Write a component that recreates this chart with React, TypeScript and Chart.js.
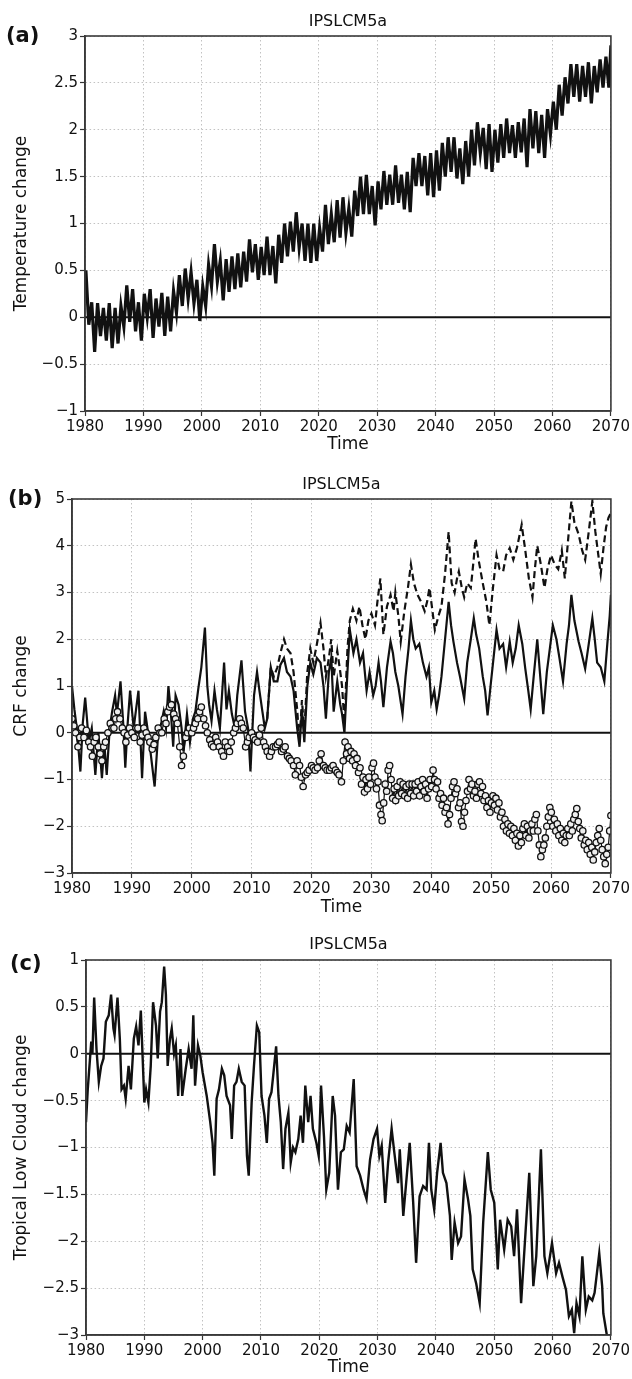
import React, { useEffect, useRef } from "react";
import { Chart, registerables } from "chart.js";

Chart.register(...registerables);

const FONT = '"DejaVu Sans", sans-serif';

// ---------- shared axis data ----------
const timeTicks = [1980, 1990, 2000, 2010, 2020, 2030, 2040, 2050, 2060, 2070];
const tempTicks = [-1, -0.5, 0, 0.5, 1, 1.5, 2, 2.5, 3];
const crfTicks = [-3, -2, -1, 0, 1, 2, 3, 4, 5];
const cloudTicks = [-3, -2.5, -2, -1.5, -1, -0.5, 0, 0.5, 1];
const panelTitle = "IPSLCM5a";
const zeroLine: [number, number][] = [[1980, 0], [2070, 0]];

// ---------- panel (a): yearly peaks / troughs, 1980..2069 ----------
const tempYears = [
  1980, 1981, 1982, 1983, 1984, 1985, 1986, 1987, 1988, 1989,
  1990, 1991, 1992, 1993, 1994, 1995, 1996, 1997, 1998, 1999,
  2000, 2001, 2002, 2003, 2004, 2005, 2006, 2007, 2008, 2009,
  2010, 2011, 2012, 2013, 2014, 2015, 2016, 2017, 2018, 2019,
  2020, 2021, 2022, 2023, 2024, 2025, 2026, 2027, 2028, 2029,
  2030, 2031, 2032, 2033, 2034, 2035, 2036, 2037, 2038, 2039,
  2040, 2041, 2042, 2043, 2044, 2045, 2046, 2047, 2048, 2049,
  2050, 2051, 2052, 2053, 2054, 2055, 2056, 2057, 2058, 2059,
  2060, 2061, 2062, 2063, 2064, 2065, 2066, 2067, 2068, 2069,
];
const tempPeaks = [
  0.50, 0.16, 0.15, 0.10, 0.15, 0.10, 0.12, 0.34, 0.30, 0.16,
  0.25, 0.30, 0.20, 0.26, 0.22, 0.28, 0.45, 0.52, 0.48, 0.40,
  0.33, 0.56, 0.78, 0.60, 0.62, 0.65, 0.68, 0.70, 0.83, 0.78,
  0.75, 0.86, 0.76, 0.88, 1.00, 1.02, 1.12, 1.00, 1.00, 1.00,
  0.95, 1.20, 1.10, 1.25, 1.28, 1.16, 1.35, 1.50, 1.52, 1.40,
  1.45, 1.56, 1.52, 1.62, 1.52, 1.55, 1.70, 1.75, 1.72, 1.75,
  1.78, 1.86, 1.92, 1.92, 1.80, 1.88, 2.00, 2.08, 2.02, 2.06,
  2.00, 2.06, 2.12, 2.05, 2.08, 2.12, 2.22, 2.20, 2.16, 2.22,
  2.30, 2.48, 2.56, 2.70, 2.70, 2.68, 2.72, 2.68, 2.75, 2.78,
];
const tempTroughs = [
  -0.08, -0.37, -0.20, -0.25, -0.33, -0.28, -0.10, -0.05, -0.15, -0.25,
  0.00, -0.22, -0.10, -0.20, -0.15, 0.05, 0.12, 0.20, 0.15, -0.04,
  0.12, 0.33, 0.38, 0.18, 0.27, 0.30, 0.32, 0.38, 0.48, 0.40,
  0.45, 0.45, 0.36, 0.58, 0.65, 0.70, 0.74, 0.60, 0.58, 0.60,
  0.70, 0.78, 0.80, 0.85, 0.90, 0.86, 1.08, 1.10, 1.10, 0.98,
  1.15, 1.20, 1.20, 1.22, 1.15, 1.12, 1.40, 1.40, 1.30, 1.28,
  1.35, 1.50, 1.55, 1.48, 1.42, 1.50, 1.62, 1.75, 1.58, 1.55,
  1.65, 1.70, 1.75, 1.70, 1.76, 1.60, 1.80, 1.75, 1.70, 1.95,
  2.00, 2.15, 2.28, 2.35, 2.30, 2.35, 2.28, 2.40, 2.45, 2.45,
];
const tempEnd: [number, number] = [2070, 2.9];

// ---------- panel (b): CRF change ----------
const crfSolid: [number, number][] = [
  [1980.0, 1.0], [1980.4, 0.5], [1980.8, 0.1], [1981.4, -0.83], [1981.8, 0.2], [1982.2, 0.75],
  [1982.5, 0.3], [1982.8, -0.2], [1983.3, 0.1], [1983.9, -0.9], [1984.4, 0.0], [1985.0, -0.97],
  [1985.4, -0.25], [1985.8, -0.9], [1986.3, 0.1], [1986.7, 0.45], [1987.2, 0.8], [1987.5, 0.4],
  [1988.1, 1.1], [1988.6, 0.1], [1988.9, -0.75], [1989.3, 0.2], [1989.7, 0.9], [1990.3, 0.1],
  [1990.7, 0.5], [1991.1, 0.9], [1991.7, -0.97], [1992.2, 0.45], [1992.6, 0.1], [1993.1, -0.4],
  [1993.8, -1.15], [1994.4, 0.0], [1994.9, 0.2], [1995.3, 0.45], [1995.7, 0.1], [1996.1, 1.0],
  [1996.5, 0.45], [1996.9, -0.3], [1997.3, 0.8], [1997.8, 0.6], [1998.3, 0.1], [1998.6, -0.4],
  [1999.2, 0.4], [1999.7, -0.2], [2000.2, 0.3], [2000.6, 0.45], [2001.1, 0.95], [2001.6, 1.4],
  [2002.2, 2.25], [2002.6, 1.0], [2002.9, 0.6], [2003.3, 0.25], [2003.8, 0.9], [2004.2, 0.5],
  [2004.7, 0.1], [2005.4, 1.5], [2005.8, 0.5], [2006.2, 0.9], [2006.7, 0.4], [2007.2, 0.1],
  [2007.6, 0.8], [2008.3, 1.55], [2008.9, 0.45], [2009.4, 0.1], [2009.8, -0.83], [2010.4, 0.8],
  [2010.9, 1.3], [2011.3, 0.9], [2011.8, 0.45], [2012.2, 0.1], [2012.6, 0.3], [2013.2, 1.4],
  [2013.7, 1.1], [2014.3, 1.1], [2014.8, 1.45], [2015.4, 1.6], [2015.9, 1.3], [2016.5, 1.2],
  [2017.0, 0.9], [2017.6, 0.1], [2018.0, -0.3], [2018.4, 0.5], [2018.8, -0.2], [2019.3, 1.0],
  [2019.8, 1.5], [2020.3, 1.25], [2020.9, 1.6], [2021.5, 1.5], [2022.0, 1.0], [2022.4, 0.3],
  [2022.9, 1.3], [2023.3, 1.6], [2023.7, 0.45], [2024.3, 1.1], [2024.8, 0.6], [2025.1, 0.4],
  [2025.5, 0.0], [2026.0, 1.3], [2026.4, 2.2], [2027.0, 1.7], [2027.5, 2.0], [2028.1, 1.5],
  [2028.6, 1.7], [2029.2, 0.9], [2029.7, 1.3], [2030.3, 0.8], [2030.7, 1.0], [2031.2, 1.5],
  [2031.6, 1.1], [2032.0, 0.55], [2032.6, 1.4], [2033.2, 1.95], [2033.6, 1.7], [2034.0, 1.3],
  [2034.5, 1.0], [2035.2, 0.4], [2035.7, 1.2], [2036.2, 1.8], [2036.6, 2.4], [2037.0, 2.0],
  [2037.4, 1.8], [2038.0, 1.9], [2038.6, 1.5], [2039.2, 1.2], [2039.6, 1.4], [2040.0, 0.65],
  [2040.5, 0.9], [2040.9, 0.5], [2041.3, 0.8], [2041.7, 1.2], [2042.3, 2.0], [2042.9, 2.8],
  [2043.3, 2.3], [2043.7, 1.95], [2044.3, 1.5], [2044.8, 1.2], [2045.5, 0.73], [2046.0, 1.5],
  [2046.6, 2.0], [2047.1, 2.45], [2047.5, 2.1], [2048.0, 1.8], [2048.6, 1.2], [2049.0, 0.9],
  [2049.4, 0.37], [2049.9, 1.0], [2050.4, 1.6], [2050.9, 2.2], [2051.4, 1.8], [2052.0, 1.9],
  [2052.5, 1.4], [2053.1, 1.95], [2053.6, 1.5], [2054.1, 1.8], [2054.6, 2.3], [2055.2, 1.9],
  [2055.7, 1.37], [2056.2, 0.9], [2056.6, 0.5], [2057.1, 1.2], [2057.7, 2.0], [2058.2, 1.2],
  [2058.7, 0.4], [2059.3, 1.3], [2059.8, 1.8], [2060.3, 2.3], [2060.9, 2.0], [2061.4, 1.6],
  [2062.0, 1.1], [2062.6, 1.9], [2063.0, 2.3], [2063.4, 2.95], [2063.9, 2.4], [2064.6, 1.95],
  [2065.1, 1.7], [2065.7, 1.37], [2066.3, 1.9], [2066.9, 2.45], [2067.3, 2.0], [2067.7, 1.5],
  [2068.3, 1.4], [2068.9, 1.1], [2069.4, 1.9], [2069.8, 2.5], [2070.0, 2.95],
];
const crfDashed: [number, number][] = [
  [2012.6, 0.3], [2013.2, 1.4], [2013.7, 1.2], [2014.3, 1.4], [2014.8, 1.7], [2015.4, 2.0],
  [2015.9, 1.8], [2016.5, 1.7], [2017.0, 1.3], [2017.6, 0.5], [2018.0, -0.2], [2018.4, 0.7],
  [2018.8, 0.0], [2019.3, 1.3], [2019.8, 1.8], [2020.3, 1.5], [2020.9, 1.9], [2021.5, 2.35],
  [2022.0, 1.8], [2022.4, 1.2], [2022.9, 1.6], [2023.3, 2.0], [2023.7, 1.2], [2024.3, 1.75],
  [2024.8, 1.3], [2025.1, 1.0], [2025.5, 0.2], [2026.0, 1.8], [2026.4, 2.4], [2026.9, 2.65],
  [2027.5, 2.4], [2028.0, 2.7], [2028.5, 2.3], [2029.0, 2.0], [2029.5, 2.4], [2030.0, 2.55],
  [2030.6, 2.3], [2031.0, 2.8], [2031.5, 3.3], [2032.0, 2.1], [2032.6, 2.7], [2033.2, 2.95],
  [2033.7, 2.6], [2034.0, 3.0], [2034.5, 2.5], [2034.9, 1.95], [2035.5, 2.6], [2036.1, 3.1],
  [2036.6, 3.6], [2037.1, 3.2], [2037.7, 2.95], [2038.3, 2.8], [2038.9, 2.6], [2039.3, 2.8],
  [2039.7, 3.1], [2040.2, 2.6], [2040.6, 2.2], [2041.2, 2.5], [2041.7, 2.7], [2042.3, 3.4],
  [2042.9, 4.3], [2043.4, 3.2], [2043.9, 3.0], [2044.3, 3.3], [2044.6, 3.45], [2045.1, 3.1],
  [2045.5, 2.9], [2046.0, 3.2], [2046.6, 3.1], [2047.0, 3.6], [2047.4, 4.15], [2047.9, 3.7],
  [2048.6, 3.2], [2049.2, 2.8], [2049.7, 2.3], [2050.3, 3.1], [2050.9, 3.8], [2051.4, 3.5],
  [2052.0, 3.45], [2052.5, 3.8], [2053.1, 3.95], [2053.7, 3.7], [2054.3, 3.95], [2054.7, 4.2],
  [2055.1, 4.45], [2055.7, 3.9], [2056.3, 3.3], [2056.9, 2.9], [2057.3, 3.5], [2057.7, 4.0],
  [2058.3, 3.6], [2058.9, 3.1], [2059.4, 3.5], [2060.0, 3.8], [2060.6, 3.6], [2061.2, 3.5],
  [2061.8, 3.9], [2062.3, 3.3], [2062.9, 4.2], [2063.4, 4.95], [2063.9, 4.5], [2064.6, 4.25],
  [2065.2, 3.9], [2065.7, 3.7], [2066.3, 4.3], [2066.9, 4.95], [2067.4, 4.3], [2067.9, 3.8],
  [2068.3, 3.4], [2068.8, 4.0], [2069.2, 4.4], [2069.6, 4.6], [2070.0, 4.7],
];
const crfCircles: [number, number][] = [
  [1980.0, 0.3], [1980.3, 0.15], [1980.6, 0.0], [1981.0, -0.3], [1981.3, -0.1], [1981.6, 0.1],
  [1982.0, -0.1], [1982.4, 0.05], [1982.8, -0.2], [1983.1, -0.3], [1983.4, -0.5], [1983.7, -0.2],
  [1984.0, -0.1], [1984.4, -0.3], [1984.7, -0.45], [1985.0, -0.6], [1985.3, -0.3], [1985.6, -0.2],
  [1986.0, 0.0], [1986.4, 0.2], [1986.7, 0.1], [1987.0, 0.1], [1987.3, 0.3], [1987.6, 0.45],
  [1988.0, 0.3], [1988.4, 0.1], [1988.7, 0.0], [1989.0, -0.2], [1989.3, -0.05], [1989.6, 0.1],
  [1990.0, 0.0], [1990.4, -0.1], [1990.7, 0.1], [1991.0, 0.1], [1991.4, -0.2], [1991.7, -0.05],
  [1992.0, 0.1], [1992.4, 0.0], [1992.7, -0.1], [1993.0, -0.2], [1993.4, -0.35], [1993.7, -0.25],
  [1994.0, -0.1], [1994.4, 0.1], [1994.7, 0.0], [1995.0, 0.0], [1995.4, 0.3], [1995.7, 0.2],
  [1996.0, 0.45], [1996.3, 0.55], [1996.6, 0.6], [1997.0, 0.4], [1997.3, 0.3], [1997.6, 0.2],
  [1998.0, -0.3], [1998.3, -0.7], [1998.6, -0.5], [1999.0, -0.1], [1999.3, 0.0], [1999.6, 0.1],
  [2000.0, 0.0], [2000.3, 0.1], [2000.6, 0.2], [2001.0, 0.3], [2001.3, 0.45], [2001.6, 0.55],
  [2002.0, 0.3], [2002.3, 0.15], [2002.6, 0.0], [2003.0, -0.15], [2003.3, -0.25], [2003.6, -0.3],
  [2004.0, -0.1], [2004.3, -0.2], [2004.6, -0.3], [2005.0, -0.4], [2005.3, -0.5], [2005.6, -0.2],
  [2006.0, -0.3], [2006.3, -0.4], [2006.6, -0.2], [2007.0, 0.0], [2007.3, 0.1], [2007.6, 0.2],
  [2008.0, 0.3], [2008.3, 0.2], [2008.6, 0.1], [2009.0, -0.3], [2009.3, -0.2], [2009.6, -0.1],
  [2010.0, 0.0], [2010.3, -0.1], [2010.6, -0.15], [2011.0, -0.2], [2011.3, -0.05], [2011.6, 0.1],
  [2012.0, -0.2], [2012.3, -0.3], [2012.6, -0.4], [2013.0, -0.5], [2013.3, -0.4], [2013.6, -0.3],
  [2014.0, -0.3], [2014.3, -0.25], [2014.6, -0.2], [2015.0, -0.4], [2015.3, -0.35], [2015.6, -0.3],
  [2016.0, -0.5], [2016.3, -0.55], [2016.6, -0.6], [2017.0, -0.7], [2017.3, -0.9], [2017.6, -0.6],
  [2018.0, -0.7], [2018.3, -0.95], [2018.6, -1.15], [2019.0, -0.9], [2019.3, -0.85], [2019.6, -0.8],
  [2020.0, -0.7], [2020.3, -0.75], [2020.6, -0.8], [2021.0, -0.75], [2021.3, -0.6], [2021.6, -0.45],
  [2022.0, -0.7], [2022.3, -0.75], [2022.6, -0.8], [2023.0, -0.8], [2023.3, -0.75], [2023.6, -0.7],
  [2024.0, -0.8], [2024.3, -0.85], [2024.6, -0.9], [2025.0, -1.05], [2025.3, -0.6], [2025.6, -0.2],
  [2025.85, -0.45], [2026.1, -0.3], [2026.35, -0.55], [2026.6, -0.4], [2026.85, -0.6], [2027.1, -0.45],
  [2027.35, -0.7], [2027.6, -0.55], [2027.85, -0.85], [2028.1, -0.75], [2028.35, -1.1], [2028.6, -0.95],
  [2028.85, -1.27], [2029.1, -1.0], [2029.35, -1.2], [2029.6, -0.95], [2029.85, -1.1], [2030.1, -0.75],
  [2030.35, -0.65], [2030.6, -0.95], [2030.85, -1.2], [2031.1, -1.05], [2031.35, -1.55], [2031.6, -1.75],
  [2031.8, -1.88], [2032.05, -1.5], [2032.3, -1.1], [2032.55, -1.25], [2032.8, -0.8], [2033.05, -0.7],
  [2033.3, -1.0], [2033.55, -1.4], [2033.8, -1.2], [2034.05, -1.45], [2034.3, -1.15], [2034.55, -1.35],
  [2034.8, -1.05], [2035.05, -1.3], [2035.3, -1.1], [2035.55, -1.35], [2035.8, -1.15], [2036.05, -1.4],
  [2036.3, -1.1], [2036.55, -1.3], [2036.8, -1.1], [2037.05, -1.35], [2037.3, -1.1], [2037.55, -1.25],
  [2037.8, -1.05], [2038.05, -1.35], [2038.3, -1.15], [2038.55, -1.0], [2038.8, -1.25], [2039.05, -1.1],
  [2039.3, -1.4], [2039.55, -1.2], [2039.8, -1.0], [2040.05, -1.15], [2040.3, -0.8], [2040.55, -1.0],
  [2040.8, -1.2], [2041.05, -1.05], [2041.3, -1.4], [2041.55, -1.3], [2041.8, -1.55], [2042.05, -1.4],
  [2042.3, -1.7], [2042.55, -1.6], [2042.8, -1.95], [2043.05, -1.75], [2043.3, -1.4], [2043.55, -1.15],
  [2043.8, -1.05], [2044.05, -1.3], [2044.3, -1.2], [2044.55, -1.6], [2044.8, -1.5], [2045.05, -1.9],
  [2045.3, -2.0], [2045.55, -1.7], [2045.8, -1.45], [2046.05, -1.25], [2046.3, -1.0], [2046.55, -1.2],
  [2046.8, -1.1], [2047.05, -1.35], [2047.3, -1.25], [2047.55, -1.4], [2047.8, -1.1], [2048.05, -1.05],
  [2048.3, -1.3], [2048.55, -1.15], [2048.8, -1.45], [2049.05, -1.35], [2049.3, -1.6], [2049.55, -1.45],
  [2049.8, -1.7], [2050.05, -1.5], [2050.3, -1.35], [2050.55, -1.55], [2050.8, -1.4], [2051.05, -1.65],
  [2051.3, -1.5], [2051.55, -1.8], [2051.8, -1.7], [2052.05, -2.0], [2052.3, -1.85], [2052.55, -2.1],
  [2052.8, -1.95], [2053.05, -2.15], [2053.3, -2.0], [2053.55, -2.2], [2053.8, -2.05], [2054.05, -2.3],
  [2054.3, -2.15], [2054.55, -2.42], [2054.8, -2.2], [2055.05, -2.35], [2055.3, -2.05], [2055.55, -1.95],
  [2055.8, -2.2], [2056.05, -2.0], [2056.3, -2.25], [2056.55, -2.1], [2056.8, -1.95], [2057.05, -2.1],
  [2057.3, -1.85], [2057.55, -1.75], [2057.8, -2.1], [2058.05, -2.4], [2058.3, -2.65], [2058.55, -2.5],
  [2058.8, -2.4], [2059.05, -2.25], [2059.3, -2.0], [2059.55, -1.8], [2059.8, -1.6], [2060.05, -1.7],
  [2060.3, -2.0], [2060.55, -1.85], [2060.8, -2.1], [2061.05, -1.95], [2061.3, -2.2], [2061.55, -2.05],
  [2061.8, -2.3], [2062.05, -2.15], [2062.3, -2.35], [2062.55, -2.2], [2062.8, -2.05], [2063.05, -2.2],
  [2063.3, -1.95], [2063.55, -2.1], [2063.8, -1.85], [2064.05, -1.75], [2064.3, -1.62], [2064.55, -1.9],
  [2064.8, -2.05], [2065.05, -2.25], [2065.3, -2.1], [2065.55, -2.4], [2065.8, -2.3], [2066.05, -2.5],
  [2066.3, -2.35], [2066.55, -2.6], [2066.8, -2.45], [2067.05, -2.72], [2067.3, -2.55], [2067.55, -2.35],
  [2067.8, -2.2], [2068.05, -2.05], [2068.3, -2.3], [2068.55, -2.5], [2068.8, -2.65], [2069.05, -2.8],
  [2069.3, -2.6], [2069.55, -2.45], [2069.8, -2.1], [2070.0, -1.77],
];

// ---------- panel (c): tropical low cloud change ----------
const lowCloud: [number, number][] = [
  [1980.0, -0.73], [1980.3, -0.38], [1980.9, 0.13], [1981.1, 0.0], [1981.4, 0.6], [1981.8, 0.05],
  [1982.2, -0.3], [1982.6, -0.13], [1983.0, -0.05], [1983.4, 0.34], [1983.9, 0.41], [1984.3, 0.63],
  [1984.7, 0.27], [1984.9, 0.2], [1985.4, 0.6], [1985.8, 0.16], [1986.1, -0.38], [1986.5, -0.34],
  [1986.8, -0.48], [1987.3, -0.13], [1987.7, -0.38], [1988.2, 0.16], [1988.6, 0.29], [1989.0, 0.09],
  [1989.4, 0.46], [1989.7, -0.02], [1990.0, -0.52], [1990.3, -0.38], [1990.7, -0.52], [1991.1, -0.13],
  [1991.5, 0.55], [1992.0, 0.3], [1992.3, -0.05], [1992.7, 0.45], [1993.0, 0.55], [1993.4, 0.93],
  [1993.7, 0.63], [1994.0, -0.13], [1994.4, 0.16], [1994.7, 0.27], [1995.1, 0.0], [1995.4, 0.09],
  [1995.8, -0.45], [1996.2, 0.05], [1996.5, -0.45], [1997.1, -0.16], [1997.6, 0.05], [1998.1, -0.16],
  [1998.4, 0.41], [1998.7, -0.34], [1999.2, 0.09], [1999.6, -0.02], [2000.0, -0.2], [2000.7, -0.45],
  [2001.3, -0.73], [2001.7, -0.95], [2002.0, -1.3], [2002.4, -0.48], [2002.8, -0.38], [2003.3, -0.16],
  [2003.7, -0.23], [2004.1, -0.45], [2004.7, -0.55], [2005.0, -0.91], [2005.4, -0.34], [2005.8, -0.3],
  [2006.2, -0.16], [2006.7, -0.3], [2007.2, -0.34], [2007.6, -1.09], [2007.9, -1.3], [2008.4, -0.52],
  [2008.8, -0.13], [2009.3, 0.3], [2009.7, 0.23], [2010.1, -0.45], [2010.6, -0.66], [2011.0, -0.95],
  [2011.4, -0.48], [2011.8, -0.41], [2012.1, -0.23], [2012.6, 0.08], [2013.0, -0.45], [2013.4, -0.73],
  [2013.8, -1.23], [2014.2, -0.8], [2014.7, -0.63], [2015.1, -1.16], [2015.5, -1.0], [2015.9, -1.05],
  [2016.4, -0.91], [2016.8, -0.66], [2017.2, -0.95], [2017.6, -0.34], [2018.1, -0.73], [2018.5, -0.45],
  [2018.9, -0.8], [2019.5, -0.95], [2019.9, -1.09], [2020.3, -0.34], [2020.8, -0.88], [2021.2, -1.45],
  [2021.7, -1.27], [2022.3, -0.45], [2022.7, -0.66], [2023.2, -1.45], [2023.7, -1.05], [2024.2, -1.02],
  [2024.7, -0.77], [2025.2, -0.84], [2025.9, -0.27], [2026.4, -1.2], [2027.0, -1.3], [2027.6, -1.45],
  [2028.1, -1.55], [2028.7, -1.13], [2029.3, -0.91], [2029.9, -0.8], [2030.3, -1.09], [2030.7, -0.98],
  [2031.3, -1.59], [2031.8, -1.16], [2032.4, -0.8], [2032.8, -1.02], [2033.5, -1.38], [2033.8, -1.02],
  [2034.4, -1.73], [2035.0, -1.3], [2035.5, -0.95], [2036.1, -1.59], [2036.6, -2.23], [2037.2, -1.52],
  [2037.8, -1.41], [2038.4, -1.45], [2038.8, -0.95], [2039.2, -1.45], [2039.7, -1.66], [2040.2, -1.27],
  [2040.8, -0.95], [2041.2, -1.27], [2041.8, -1.38], [2042.4, -1.73], [2042.7, -2.2], [2043.2, -1.8],
  [2043.8, -2.02], [2044.3, -1.95], [2044.9, -1.34], [2045.5, -1.55], [2045.9, -1.73], [2046.3, -2.3],
  [2046.9, -2.45], [2047.5, -2.66], [2048.1, -1.8], [2048.9, -1.05], [2049.4, -1.45], [2050.0, -1.59],
  [2050.6, -2.3], [2051.0, -1.77], [2051.7, -2.09], [2052.3, -1.77], [2052.9, -1.84], [2053.4, -2.16],
  [2053.9, -1.66], [2054.6, -2.66], [2055.1, -2.16], [2056.0, -1.27], [2056.7, -2.48], [2057.2, -2.16],
  [2058.0, -1.02], [2058.6, -2.16], [2059.1, -2.34], [2059.9, -2.02], [2060.6, -2.34], [2061.1, -2.23],
  [2061.7, -2.38], [2062.3, -2.52], [2062.8, -2.8], [2063.3, -2.73], [2063.7, -2.98], [2064.1, -2.66],
  [2064.6, -2.8], [2065.1, -2.16], [2065.7, -2.73], [2066.2, -2.59], [2066.8, -2.63], [2067.2, -2.55],
  [2068.0, -2.13], [2068.5, -2.48], [2068.7, -2.77], [2069.3, -3.0],
];

// ---------- helpers ----------
const toPoints = (arr: [number, number][]) => arr.map(([x, y]) => ({ x, y }));

function tempPoints() {
  const pts: { x: number; y: number }[] = [];
  tempYears.forEach((yr, i) => {
    pts.push({ x: yr + 0.15, y: tempPeaks[i] });
    pts.push({ x: yr + 0.65, y: tempTroughs[i] });
  });
  pts.push({ x: tempEnd[0], y: tempEnd[1] });
  return pts;
}

const fmt = (v: number) => String(v).replace("-", "\u2212");

const framePlugin = {
  id: "frame",
  afterDatasetsDraw(chart: any, _args: any, opts: any) {
    const { ctx, chartArea: a } = chart;
    ctx.save();
    ctx.strokeStyle = "#3a3a3a";
    ctx.lineWidth = 1.6;
    ctx.strokeRect(a.left, a.top, a.right - a.left, a.bottom - a.top);
    ctx.fillStyle = "#111";
    ctx.textBaseline = "middle";
    ctx.textAlign = "left";
    ctx.font = `bold 21px ${FONT}`;
    ctx.fillText(opts.letter, opts.letterX, opts.letterY);
    ctx.textAlign = "center";
    ctx.font = `16px ${FONT}`;
    ctx.fillText(opts.title, (a.left + a.right) / 2, opts.titleY);
    ctx.restore();
  },
};

type PanelSpec = {
  height: number;
  left: number;
  top: number;
  bottom: number;
  yMin: number;
  yMax: number;
  yTicks: number[];
  yTitle: string;
  letter: string;
  letterX: number;
  letterY: number;
  titleY: number;
  timePad: number;
  datasets: any[];
};

function makeConfig(p: PanelSpec): any {
  return {
    type: "line",
    data: { datasets: p.datasets },
    plugins: [framePlugin],
    options: {
      responsive: false,
      animation: false,
      events: [],
      layout: { padding: { top: p.top, right: 20, left: 0, bottom: 0 }, autoPadding: false },
      plugins: {
        legend: { display: false },
        tooltip: { enabled: false },
        frame: { letter: p.letter, letterX: p.letterX, letterY: p.letterY, title: panelTitle, titleY: p.titleY },
      },
      scales: {
        x: {
          type: "linear",
          min: 1980,
          max: 2070,
          afterBuildTicks: (s: any) => {
            s.ticks = timeTicks.map((v) => ({ value: v }));
          },
          afterFit: (s: any) => {
            s.height = p.height - p.bottom;
          },
          grid: { color: "#c2c2c2", lineWidth: 1, tickLength: 5, tickColor: "#333", tickWidth: 1.2 },
          border: { display: true, color: "#3a3a3a", width: 1.6, dash: [1.5, 2.5] },
          ticks: {
            color: "#111",
            font: { family: FONT, size: 15 },
            padding: 2,
            maxRotation: 0,
            autoSkip: false,
            callback: (v: number) => String(v),
          },
          title: {
            display: true,
            text: "Time",
            color: "#111",
            font: { family: FONT, size: 17 },
            padding: { top: 0, bottom: p.timePad },
          },
        },
        y: {
          type: "linear",
          min: p.yMin,
          max: p.yMax,
          afterBuildTicks: (s: any) => {
            s.ticks = p.yTicks.map((v) => ({ value: v }));
          },
          afterFit: (s: any) => {
            s.width = p.left;
          },
          grid: { color: "#c2c2c2", lineWidth: 1, tickLength: 5, tickColor: "#333", tickWidth: 1.2 },
          border: { display: true, color: "#3a3a3a", width: 1.6, dash: [1.5, 2.5] },
          ticks: {
            color: "#111",
            font: { family: FONT, size: 15 },
            padding: 2,
            autoSkip: false,
            callback: (v: number) => fmt(v),
          },
          title: {
            display: true,
            text: p.yTitle,
            color: "#111",
            font: { family: FONT, size: 17 },
            padding: { top: 11, bottom: 0 },
          },
        },
      },
    },
  };
}

const zeroDataset = () => ({
  data: toPoints(zeroLine),
  borderColor: "#111",
  borderWidth: 2,
  pointRadius: 0,
  order: 5,
});

const panels: PanelSpec[] = [
  {
    height: 460, left: 85, top: 36, bottom: 411,
    yMin: -1, yMax: 3, yTicks: tempTicks, yTitle: "Temperature change",
    letter: "(a)", letterX: 6, letterY: 37, titleY: 22, timePad: 5,
    datasets: [
      { data: tempPoints(), borderColor: "#111", borderWidth: 3.2, pointRadius: 0, tension: 0, order: 1 },
      zeroDataset(),
    ],
  },
  {
    height: 460, left: 72, top: 39, bottom: 413,
    yMin: -3, yMax: 5, yTicks: crfTicks, yTitle: "CRF change",
    letter: "(b)", letterX: 8, letterY: 40, titleY: 25, timePad: 2,
    datasets: [
      {
        data: toPoints(crfCircles), borderColor: "#111", borderWidth: 1.2, tension: 0,
        pointRadius: 3.2, pointBorderWidth: 1.3, pointBackgroundColor: "#eeeeee", pointBorderColor: "#111", order: 0,
      },
      { data: toPoints(crfSolid), borderColor: "#111", borderWidth: 2.2, pointRadius: 0, tension: 0, order: 1 },
      { data: toPoints(crfDashed), borderColor: "#111", borderWidth: 2.2, borderDash: [7, 4], pointRadius: 0, tension: 0, order: 2 },
      zeroDataset(),
    ],
  },
  {
    height: 459, left: 86, top: 40, bottom: 415,
    yMin: -3, yMax: 1, yTicks: cloudTicks, yTitle: "Tropical Low Cloud change",
    letter: "(c)", letterX: 10, letterY: 45, titleY: 25, timePad: 1,
    datasets: [
      { data: toPoints(lowCloud), borderColor: "#111", borderWidth: 2.4, pointRadius: 0, tension: 0, order: 1 },
      zeroDataset(),
    ],
  },
];

const panelTops = [0, 460, 920];

function Panel({ spec, top }: { spec: PanelSpec; top: number }) {
  const ref = useRef<HTMLCanvasElement | null>(null);
  useEffect(() => {
    if (!ref.current) return;
    const chart = new Chart(ref.current, makeConfig(spec));
    return () => chart.destroy();
  }, [spec]);
  return (
    <canvas
      ref={ref}
      width={632}
      height={spec.height}
      style={{ position: "absolute", left: 0, top, width: 632, height: spec.height, display: "block" }}
    />
  );
}

export default function App() {
  return (
    <div style={{ position: "fixed", left: 0, top: 0, width: 632, height: 1379, background: "#fff", overflow: "hidden" }}>
      {panels.map((p, i) => (
        <Panel key={i} spec={p} top={panelTops[i]} />
      ))}
    </div>
  );
}
